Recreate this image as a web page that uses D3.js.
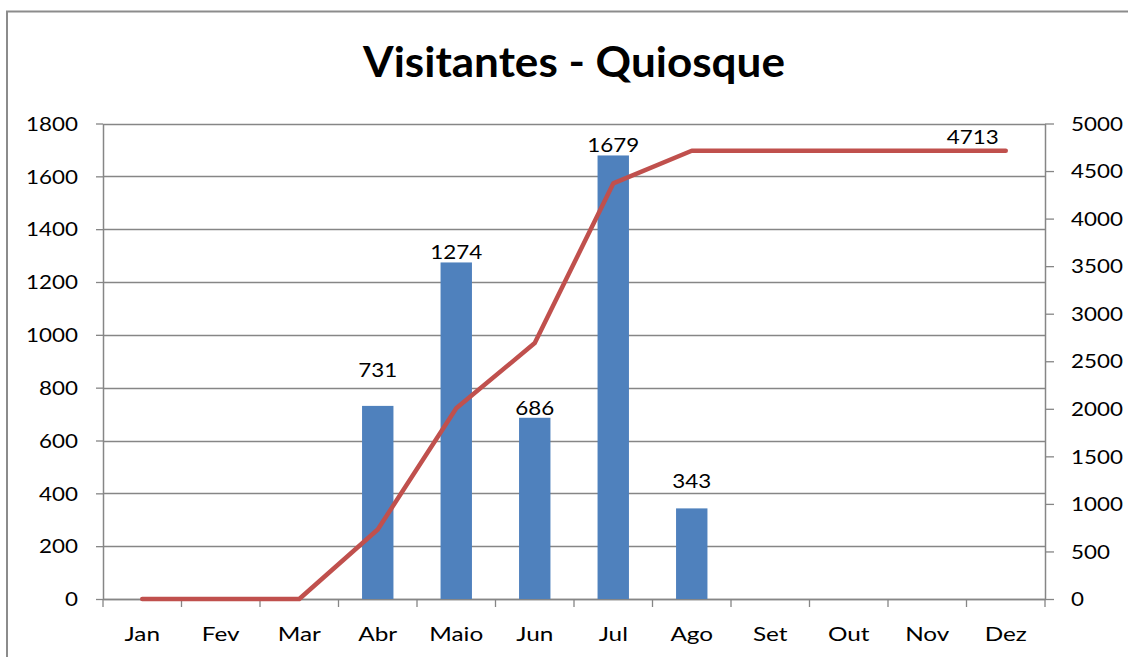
<!DOCTYPE html>
<html>
<head>
<meta charset="utf-8">
<script src="https://cdn.jsdelivr.net/npm/d3@7"></script>
<style>
  html, body { margin: 0; padding: 0; background: #ffffff; }
  svg { display: block; }
  text { font-family: Lato, "Open Sans", sans-serif; fill: #000; }
</style>
</head>
<body>
<svg id="chart" width="1128" height="657"></svg>
<script>
// ---- Data ----
const title = "Visitantes - Quiosque";
const months = ["Jan", "Fev", "Mar", "Abr", "Maio", "Jun", "Jul", "Ago", "Set", "Out", "Nov", "Dez"];
const visitors = [null, null, null, 731, 1274, 686, 1679, 343, null, null, null, null];
const cumulative = [0, 0, 0, 731, 2005, 2691, 4370, 4713, 4713, 4713, 4713, 4713];
const leftTicks = [0, 200, 400, 600, 800, 1000, 1200, 1400, 1600, 1800];
const rightTicks = [0, 500, 1000, 1500, 2000, 2500, 3000, 3500, 4000, 4500, 5000];
const cumulativeLabelMonth = "Dez";

// ---- Layout ----
const svg = d3.select("#chart");
const W = 1128, H = 657;
const plot = { left: 103, right: 1045, top: 123.5, bottom: 599 };
const gridColor = "#868686";
const barColor = "#4F81BD";
const lineColor = "#C0504D";
const tickFont = 20;
// extra lift (px) for some bar labels, as placed in the reference
const labelLift = { "Abr": 26, "Ago": 17 };

// horizontal stretch to mimic the wide glyphs of the reference
function stretchFor(sample, size, weight, target) {
  const t = svg.append("text").attr("font-size", size).attr("font-weight", weight).text(sample);
  const w = t.node().getComputedTextLength();
  t.remove();
  return target / w;
}
const sxTick = stretchFor("1800", tickFont, "normal", 52);
const sxMonth = stretchFor("Maio", tickFont, "normal", 54);
const sxTitle = stretchFor(title, 42, "bold", 422);

function addText(g, str, x, y, anchor, size, weight, sx) {
  return g.append("text")
    .attr("transform", `translate(${x},${y}) scale(${sx},1)`)
    .attr("text-anchor", anchor)
    .attr("font-size", size)
    .attr("font-weight", weight)
    .text(str);
}

// ---- Outer frame ----
svg.append("rect")
  .attr("x", 7).attr("y", 11.5)
  .attr("width", W + 20).attr("height", H + 20)
  .attr("fill", "none").attr("stroke", "#8c8c8c").attr("stroke-width", 2);

// ---- Scales ----
const x = d3.scaleBand().domain(months).range([plot.left, plot.right]).padding(0);
const yL = d3.scaleLinear().domain([0, 1800]).range([plot.bottom, plot.top]);
const yR = d3.scaleLinear().domain([0, 5000]).range([plot.bottom, plot.top]);

// ---- Gridlines ----
svg.append("g").selectAll("line").data(leftTicks).join("line")
  .attr("x1", plot.left).attr("x2", plot.right)
  .attr("y1", d => Math.round(yL(d)) + 0.5).attr("y2", d => Math.round(yL(d)) + 0.5)
  .attr("stroke", gridColor).attr("stroke-width", 1.3);

// ---- Axes ----
function styleAxis(g) {
  g.select(".domain").attr("stroke", gridColor).attr("stroke-width", 1.5);
  g.selectAll(".tick line").attr("stroke", gridColor).attr("stroke-width", 1.3);
  g.selectAll(".tick text").remove();
}

const gL = svg.append("g").attr("transform", `translate(${plot.left},0)`)
  .call(d3.axisLeft(yL).tickValues(leftTicks).tickSize(7).tickSizeOuter(0));
styleAxis(gL);
leftTicks.forEach(v => addText(svg, String(v), plot.left - 25, yL(v) + tickFont * 0.36, "end", tickFont, "normal", sxTick));

const gR = svg.append("g").attr("transform", `translate(${plot.right},0)`)
  .call(d3.axisRight(yR).tickValues(rightTicks).tickSize(9).tickSizeOuter(0));
styleAxis(gR);
rightTicks.forEach(v => addText(svg, String(v), plot.right + 26, yR(v) + tickFont * 0.36, "start", tickFont, "normal", sxTick));

// bottom axis: ticks at category boundaries
const gB = svg.append("g").attr("transform", `translate(0,${plot.bottom})`)
  .call(d3.axisBottom(x).tickSize(0).tickSizeOuter(0));
styleAxis(gB);
const boundaries = months.map(m => x(m)).concat([plot.right]);
gB.selectAll("line.b").data(boundaries).join("line").attr("class", "b")
  .attr("x1", d => d).attr("x2", d => d).attr("y1", 0).attr("y2", 8)
  .attr("stroke", gridColor).attr("stroke-width", 1.3);
months.forEach(m => addText(svg, m, x(m) + x.bandwidth() / 2, 641, "middle", tickFont, "normal", sxMonth));

// ---- Bars ----
const barW = x.bandwidth() * 0.4;
const barData = months.map((m, i) => ({ m, v: visitors[i] })).filter(d => d.v != null);
svg.append("g").selectAll("rect").data(barData).join("rect")
  .attr("x", d => x(d.m) + (x.bandwidth() - barW) / 2)
  .attr("y", d => yL(d.v))
  .attr("width", barW)
  .attr("height", d => plot.bottom - yL(d.v))
  .attr("fill", barColor);

// bar labels
barData.forEach(d => {
  addText(svg, String(d.v), x(d.m) + x.bandwidth() / 2, yL(d.v) - 3 - (labelLift[d.m] || 0),
    "middle", tickFont, "normal", sxTick);
});

// ---- Cumulative line ----
const lineGen = d3.line()
  .x((d, i) => x(months[i]) + x.bandwidth() / 2)
  .y(d => yR(d));
svg.append("path").datum(cumulative)
  .attr("d", lineGen)
  .attr("fill", "none")
  .attr("stroke", lineColor)
  .attr("stroke-width", 4.5)
  .attr("stroke-linecap", "round")
  .attr("stroke-linejoin", "round");

const li = months.indexOf(cumulativeLabelMonth);
addText(svg, String(cumulative[li]), x(months[li]) + x.bandwidth() / 2 - 33, yR(cumulative[li]) - 7,
  "middle", tickFont, "normal", sxTick);

// ---- Title ----
addText(svg, title, (plot.left + plot.right) / 2, 77, "middle", 42, "bold", sxTitle);
</script>
</body>
</html>
